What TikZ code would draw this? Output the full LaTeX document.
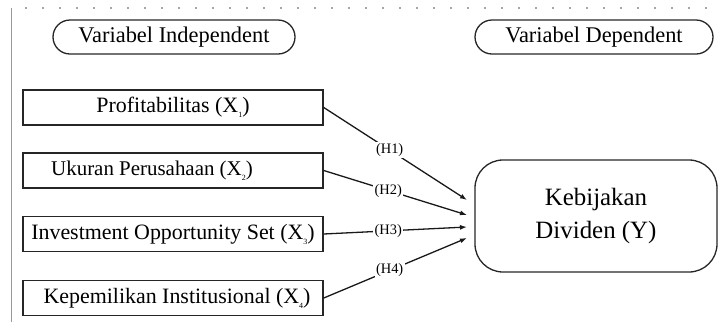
\documentclass[tikz,border=0pt]{standalone}
\usepackage{fontspec}
\setmainfont{Liberation Serif}
\usetikzlibrary{arrows.meta}
\newcommand{\sbs}[1]{\raisebox{-0.5ex}{\fontsize{8}{8}\selectfont #1}}
\begin{document}
\begin{tikzpicture}[x=1bp,y=-1bp,
  headcap/.style={draw=black!85,line width=1.3bp,rounded corners=17bp,minimum width=242bp,minimum height=34bp,inner sep=0pt,font=\fontsize{22.5}{24}\selectfont},
  varbox/.style={draw=black!85,line width=1.5bp,minimum width=300bp,minimum height=35bp,inner sep=0pt,font=\fontsize{22}{24}\selectfont},
  ybox/.style={draw=black!85,line width=1.3bp,rounded corners=28bp,minimum width=242bp,minimum height=112bp,inner sep=0pt,align=center,font=\fontsize{25}{34}\selectfont},
  conn/.style={draw=black!90,line width=1.3bp,-{Latex[length=7bp,width=5bp]}},
  hlab/.style={fill=white,inner sep=1.5bp,font=\fontsize{14.5}{16}\selectfont},
  guide/.style={draw=black!40,line width=1bp}]
\useasboundingbox (0,0) rectangle (719,322);
% page guides
\draw[guide] (11.5,8) -- (11.5,322);
\draw[draw=black!35,line width=1.5bp,dash pattern=on 1.5bp off 15.5bp] (25,8) -- (719,8);
% headings
\node[headcap] (hi) at (174,37) {Variabel Independent};
\node[headcap,minimum width=238bp] (hd) at (594,37) {Variabel Dependent};
% variable boxes
\node[varbox] (x1) at (173,107.5) {Profitabilitas (X\sbs{1})};
\node[varbox,font=\fontsize{21}{24}\selectfont] (x2) at (173,170.5) {Ukuran Perusahaan (X\sbs{2})\kern42bp};
\node[varbox] (x3) at (173,234) {Investment Opportunity Set (X\sbs{3})};
\node[varbox] (x4) at (173,298) {\kern8bp Kepemilikan Institusional (X\sbs{4})};
% dependent
\node[ybox] (y) at (596,216) {Kebijakan\\Dividen (Y)};
% arrow targets
\coordinate (t1) at (467,200);
\coordinate (t2) at (467,215);
\coordinate (t3) at (467,227);
\coordinate (t4) at (467,238);
\draw[conn] (x1.east) -- node[hlab,pos=0.46] {(H1)} (t1);
\draw[conn] (x2.east) -- node[hlab,pos=0.45] {(H2)} (t2);
\draw[conn] (x3.east) -- node[hlab,pos=0.45] {(H3)} (t3);
\draw[conn] (x4.east) -- node[hlab,pos=0.46] {(H4)} (t4);
\end{tikzpicture}
\end{document}
